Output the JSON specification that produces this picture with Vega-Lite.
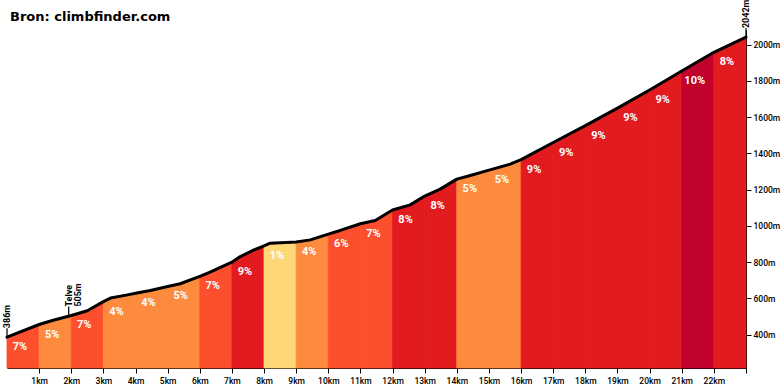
{
  "$schema": "https://vega.github.io/schema/vega-lite/v6.json",
  "width": 739,
  "height": 338,
  "autosize": {"type": "none"},
  "padding": {"left": 7, "top": 30, "right": 34, "bottom": 22},
  "background": "white",
  "title": {
    "text": "Bron: climbfinder.com",
    "anchor": "start",
    "frame": "group",
    "font": "DejaVu Sans",
    "fontSize": 13,
    "fontWeight": "bold",
    "color": "#000000",
    "offset": -24,
    "dx": 3
  },
  "config": {
    "view": {"stroke": null},
    "axis": {"grid": false}
  },
  "datasets": {
    "segments": [
      {"seg": 0, "grade": 7, "km": [0, 1], "elev": [386, 456]},
      {"seg": 1, "grade": 5, "km": [1, 1.41, 2], "elev": [456, 478, 506]},
      {"seg": 2, "grade": 7, "km": [2, 2.5, 3], "elev": [506, 532, 582]},
      {"seg": 3, "grade": 4, "km": [3, 3.22, 3.71, 4], "elev": [582, 602, 618, 628]},
      {"seg": 4, "grade": 4, "km": [4, 4.46, 5], "elev": [628, 644, 666]},
      {"seg": 5, "grade": 5, "km": [5, 5.39, 6], "elev": [666, 681, 722]},
      {"seg": 6, "grade": 7, "km": [6, 6.32, 7], "elev": [722, 745, 800]},
      {"seg": 7, "grade": 9, "km": [7, 7.26, 7.69, 8], "elev": [800, 831, 868, 890]},
      {"seg": 8, "grade": 1, "km": [8, 8.19, 9], "elev": [890, 905, 911]},
      {"seg": 9, "grade": 4, "km": [9, 9.44, 10], "elev": [911, 923, 955]},
      {"seg": 10, "grade": 6, "km": [10, 10.37, 11], "elev": [955, 975, 1012]},
      {"seg": 11, "grade": 7, "km": [11, 11.46, 12], "elev": [1012, 1030, 1088]},
      {"seg": 12, "grade": 8, "km": [12, 12.55, 13], "elev": [1088, 1116, 1165]},
      {"seg": 13, "grade": 8, "km": [13, 13.48, 14], "elev": [1165, 1203, 1258]},
      {"seg": 14, "grade": 5, "km": [14, 14.42, 15], "elev": [1258, 1278, 1308]},
      {"seg": 15, "grade": 5, "km": [15, 15.66, 16], "elev": [1308, 1341, 1366]},
      {"seg": 16, "grade": 9, "km": [16, 17], "elev": [1366, 1460]},
      {"seg": 17, "grade": 9, "km": [17, 18], "elev": [1460, 1553]},
      {"seg": 18, "grade": 9, "km": [18, 19], "elev": [1553, 1650]},
      {"seg": 19, "grade": 9, "km": [19, 20], "elev": [1650, 1750]},
      {"seg": 20, "grade": 9, "km": [20, 21], "elev": [1750, 1855]},
      {"seg": 21, "grade": 10, "km": [21, 22], "elev": [1855, 1958]},
      {"seg": 22, "grade": 8, "km": [22, 23], "elev": [1958, 2042]}
    ],
    "places": [
      {"km": 0, "elev": 386, "name": ["386m"]},
      {"km": 1.92, "elev": 505, "name": ["Telve", "505m"]},
      {"km": 23, "elev": 2042, "name": ["2042m"]}
    ]
  },
  "encoding": {
    "x": {
      "field": "km",
      "type": "quantitative",
      "scale": {"domain": [0, 23], "nice": false, "zero": false},
      "axis": {
        "title": null,
        "values": [1, 2, 3, 4, 5, 6, 7, 8, 9, 10, 11, 12, 13, 14, 15, 16, 17, 18, 19, 20, 21, 22, 23],
        "labelExpr": "datum.value < 23 ? datum.value + 'km' : ''",
        "domainColor": "#000000",
        "tickColor": "#000000",
        "tickSize": 5,
        "labelColor": "#000000",
        "labelFont": "Roboto",
        "labelFontSize": 8.5,
        "labelFontWeight": 500,
        "labelPadding": 3,
        "labelFlush": false,
        "labelOverlap": false
      }
    },
    "y": {
      "field": "elev",
      "type": "quantitative",
      "scale": {"domain": [216, 2081], "nice": false, "zero": false},
      "axis": {
        "orient": "right",
        "title": null,
        "values": [400, 600, 800, 1000, 1200, 1400, 1600, 1800, 2000],
        "labelExpr": "datum.value + 'm'",
        "domainColor": "#000000",
        "tickColor": "#000000",
        "tickSize": 5,
        "labelColor": "#000000",
        "labelFont": "Roboto",
        "labelFontSize": 8.5,
        "labelFontWeight": 500,
        "labelPadding": 2
      }
    }
  },
  "layer": [
    {
      "data": {"name": "places"},
      "mark": {"type": "rule", "color": "#000000", "strokeWidth": 1.2, "y2Offset": -9},
      "encoding": {
        "y2": {"field": "elev"}
      }
    },
    {
      "data": {"name": "segments"},
      "transform": [{"flatten": ["km", "elev"]}],
      "mark": {"type": "area", "strokeWidth": 0.8},
      "encoding": {
        "y": {"field": "elev", "type": "quantitative", "stack": null},
        "y2": {"datum": 216},
        "detail": {"field": "seg", "type": "nominal"},
        "color": {
          "field": "grade",
          "type": "ordinal",
          "legend": null,
          "scale": {
            "domain": [1, 4, 5, 6, 7, 8, 9, 10],
            "range": ["#FED776", "#FD8B3D", "#FD8B3D", "#FD4F2D", "#FD4F2D", "#E21B1F", "#E21B1F", "#C0022C"]
          }
        },
        "stroke": {
          "field": "grade",
          "type": "ordinal",
          "legend": null,
          "scale": {
            "domain": [1, 4, 5, 6, 7, 8, 9, 10],
            "range": ["#FED776", "#FD8B3D", "#FD8B3D", "#FD4F2D", "#FD4F2D", "#E21B1F", "#E21B1F", "#C0022C"]
          }
        }
      }
    },
    {
      "data": {"name": "segments"},
      "transform": [{"flatten": ["km", "elev"]}],
      "mark": {"type": "line", "color": "#000000", "strokeWidth": 3, "strokeCap": "round", "strokeJoin": "round"},
      "encoding": {
        "order": {"field": "km", "type": "quantitative"}
      }
    },
    {
      "data": {"name": "segments"},
      "transform": [
        {"flatten": ["km", "elev"]},
        {"aggregate": [
          {"op": "min", "field": "km", "as": "km"},
          {"op": "min", "field": "elev", "as": "elev"}
        ], "groupby": ["seg", "grade"]},
        {"calculate": "datum.grade + '%'", "as": "label"}
      ],
      "mark": {"type": "text", "color": "#FFFFFF", "font": "Roboto", "fontSize": 11, "fontWeight": 700, "align": "center", "baseline": "middle", "dx": 13, "dy": 10},
      "encoding": {
        "text": {"field": "label"}
      }
    },
    {
      "data": {"name": "places"},
      "mark": {"type": "text", "color": "#000000", "font": "Roboto", "fontSize": 9, "fontWeight": 700, "angle": -90, "align": "left", "baseline": "middle", "dx": 9, "lineHeight": 9},
      "encoding": {
        "text": {"field": "name"}
      }
    }
  ]
}
